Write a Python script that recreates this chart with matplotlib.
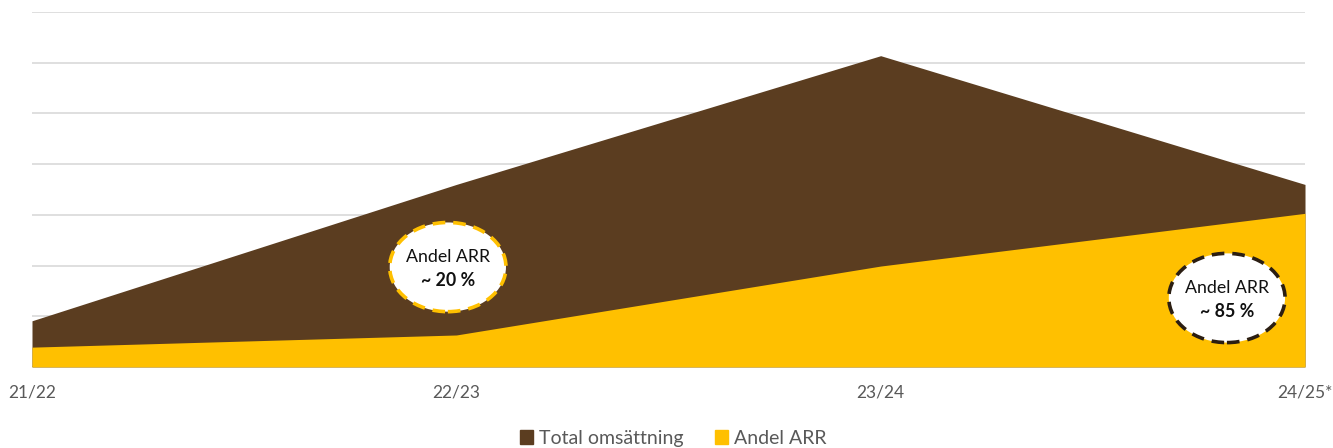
import matplotlib.pyplot as plt
from matplotlib.patches import Ellipse, Patch

plt.rcParams['font.family'] = ['Lato', 'DejaVu Sans']

periods = ["21/22", "22/23", "23/24", "24/25*"]
total = [0.91, 3.6, 6.14, 3.6]
arr = [0.39, 0.63, 1.99, 3.03]

brown = "#5B3D20"
yellow = "#FFC000"
gray = "#595959"

fig = plt.figure(figsize=(13.33, 4.48), dpi=100)
ax = fig.add_axes([0.024, 0.181, 0.955, 0.792])

x = range(len(periods))
ax.fill_between(x, total, color=brown, lw=0, zorder=2)
ax.fill_between(x, arr, color=yellow, lw=0, zorder=3)

ax.set_xlim(0, 3)
ax.set_ylim(0, 7)
ax.set_yticks(range(0, 8))
ax.set_yticklabels([])
ax.grid(axis='y', color="#D9D9D9", lw=1.2, zorder=1)
ax.tick_params(length=0)
ax.set_xticks(list(x))
ax.set_xticklabels(periods, fontsize=12.5, color=gray)
ax.tick_params(axis='x', pad=13)
for s in ax.spines.values():
    s.set_visible(False)

# callouts
callouts = [(0.98, 1.97, "20", yellow), (2.816, 1.36, "85", "#2B1E12")]
for cx, cy, pct, ec in callouts:
    ax.add_patch(Ellipse((cx, cy), 0.274, 1.76, facecolor="white", edgecolor=ec,
                         lw=2.6, ls=(0, (3.5, 2.2)), zorder=5))
    ax.text(cx, cy + 0.2, "Andel ARR", ha="center", va="center", fontsize=12.8,
            color="#111111", zorder=6)
    ax.text(cx, cy - 0.27, "~ " + pct + " %", ha="center", va="center", fontsize=12.8,
            fontweight="bold", color="#111111", zorder=6)

handles = [Patch(color=brown, label="Total omsättning"), Patch(color=yellow, label="Andel ARR")]
fig.legend(handles=handles, loc="center", bbox_to_anchor=(0.505, 0.022), ncol=2, frameon=False,
           fontsize=14, labelcolor=gray, handlelength=0.7, handleheight=0.7,
           handletextpad=0.3, columnspacing=1.6)

fig.savefig("out.png", dpi=100)
